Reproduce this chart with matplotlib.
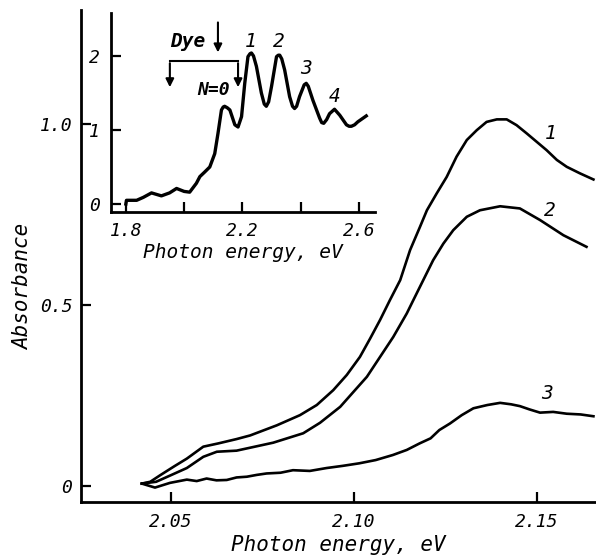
import matplotlib
matplotlib.use('Agg')
import matplotlib.pyplot as plt

# main panel: absorbance spectra of three samples
energy_1 = [2.0421, 2.0444, 2.0471, 2.0510, 2.0544, 2.0589, 2.0630, 2.0680, 2.0717, 2.0790,
            2.0853, 2.0899, 2.0944, 2.0981, 2.1017, 2.1045, 2.1072, 2.1099, 2.1127, 2.1154,
            2.1181, 2.1200, 2.1227, 2.1254, 2.1281, 2.1309, 2.1336, 2.1363, 2.1391, 2.1418,
            2.1445, 2.1473, 2.1500, 2.1527, 2.1555, 2.1582, 2.1618, 2.1655]
absorb_1 = [0.007, 0.012, 0.030, 0.055, 0.076, 0.109, 0.118, 0.130, 0.140, 0.168,
            0.196, 0.224, 0.265, 0.307, 0.357, 0.408, 0.459, 0.514, 0.569, 0.652,
            0.716, 0.762, 0.809, 0.854, 0.910, 0.956, 0.983, 1.006, 1.013, 1.013,
            0.997, 0.974, 0.951, 0.928, 0.901, 0.882, 0.864, 0.847]

energy_2 = [2.0421, 2.0460, 2.0500, 2.0544, 2.0589, 2.0626, 2.0680, 2.0780, 2.0862, 2.0908,
            2.0963, 2.0999, 2.1036, 2.1072, 2.1108, 2.1145, 2.1163, 2.1190, 2.1217, 2.1245,
            2.1272, 2.1309, 2.1345, 2.1400, 2.1454, 2.1509, 2.1573, 2.1636]
absorb_2 = [0.007, 0.012, 0.030, 0.050, 0.081, 0.095, 0.098, 0.120, 0.146, 0.175,
            0.219, 0.260, 0.302, 0.357, 0.412, 0.477, 0.514, 0.569, 0.624, 0.670,
            0.707, 0.744, 0.762, 0.773, 0.767, 0.735, 0.693, 0.661]

energy_3 = [2.0421, 2.0457, 2.0498, 2.0544, 2.0571, 2.0598, 2.0625, 2.0653, 2.0680, 2.0708,
            2.0735, 2.0762, 2.0800, 2.0834, 2.0880, 2.0926, 2.0970, 2.1015, 2.1060, 2.1107,
            2.1145, 2.1180, 2.1210, 2.1234, 2.1263, 2.1295, 2.1327, 2.1365, 2.1400, 2.1430,
            2.1454, 2.1480, 2.1509, 2.1545, 2.1582, 2.1620, 2.1655]
absorb_3 = [0.007, -0.004, 0.009, 0.018, 0.014, 0.021, 0.016, 0.017, 0.024, 0.026,
            0.031, 0.035, 0.037, 0.044, 0.042, 0.050, 0.056, 0.063, 0.072, 0.086,
            0.100, 0.118, 0.132, 0.155, 0.173, 0.196, 0.215, 0.224, 0.230, 0.226,
            0.221, 0.212, 0.203, 0.205, 0.200, 0.198, 0.193]

curve_labels = ['1', '2', '3']
curve_label_x = [2.1537, 2.1537, 2.1527]
curve_label_y = [0.975, 0.762, 0.256]

# inset: wide-range dye spectrum
inset_energy = [1.800, 1.802, 1.837, 1.860, 1.888, 1.905, 1.922, 1.950, 1.974, 2.000,
                2.019, 2.042, 2.054, 2.070, 2.088, 2.105, 2.116, 2.128, 2.134, 2.139,
                2.148, 2.157, 2.174, 2.185, 2.197, 2.208, 2.219, 2.226, 2.231, 2.238,
                2.248, 2.265, 2.275, 2.282, 2.290, 2.300, 2.317, 2.323, 2.328, 2.335,
                2.345, 2.362, 2.372, 2.379, 2.386, 2.396, 2.412, 2.419, 2.426, 2.442,
                2.465, 2.472, 2.479, 2.489, 2.499, 2.516, 2.534, 2.557, 2.566, 2.574,
                2.585, 2.596, 2.625]
inset_absorb = [0.00, 0.05, 0.05, 0.09, 0.15, 0.13, 0.11, 0.15, 0.21, 0.17,
                0.16, 0.28, 0.37, 0.43, 0.50, 0.68, 0.95, 1.27, 1.31, 1.32,
                1.30, 1.27, 1.07, 1.04, 1.18, 1.63, 1.99, 2.03, 2.04, 2.00,
                1.86, 1.50, 1.35, 1.32, 1.38, 1.59, 1.99, 2.01, 2.01, 1.96,
                1.81, 1.45, 1.32, 1.29, 1.32, 1.45, 1.61, 1.63, 1.59, 1.40,
                1.16, 1.10, 1.09, 1.14, 1.22, 1.28, 1.20, 1.07, 1.05, 1.05,
                1.07, 1.11, 1.19]

peak_labels = ['1', '2', '3', '4']
peak_label_x = [2.228, 2.325, 2.419, 2.516]
peak_label_y = [2.19, 2.19, 1.83, 1.45]

plt.rcParams['font.family'] = ['DejaVu Sans Mono']
plt.rcParams['font.style'] = 'italic'

fig = plt.figure(figsize=(5.96, 5.58), dpi=100)
ax = fig.add_axes([0.1354, 0.1009, 0.8646, 0.8811])

for xs, ys in [(energy_1, absorb_1), (energy_2, absorb_2), (energy_3, absorb_3)]:
    ax.plot(xs, ys, color='black', lw=1.9, solid_joinstyle='round')

for lab, lx, ly in zip(curve_labels, curve_label_x, curve_label_y):
    ax.text(lx, ly, lab, fontsize=14, ha='center', va='center')

ax.set_xlim(2.0254, 2.1662)
ax.set_ylim(-0.043, 1.315)
ax.set_xticks([2.05, 2.10, 2.15])
ax.set_xticklabels(['2.05', '2.10', '2.15'])
ax.set_yticks([0, 0.5, 1.0])
ax.set_yticklabels(['0', '0.5', '1.0'])
for side in ['top', 'right']:
    ax.spines[side].set_visible(False)
for side in ['left', 'bottom']:
    ax.spines[side].set_linewidth(2)
ax.tick_params(direction='in', length=7, width=1.6, labelsize=13)
ax.tick_params(axis='x', pad=8)
ax.tick_params(axis='y', pad=6)
ax.set_xlabel('Photon energy, eV', fontsize=15, labelpad=3)
fig.text(23 / 596, 1 - 287 / 558, 'Absorbance', rotation=90, fontsize=15,
         ha='center', va='center')

# inset
axi = fig.add_axes([111 / 596, 1 - 212 / 558, 264 / 596, 199 / 558])
axi.patch.set_alpha(0)
axi.plot(inset_energy, inset_absorb, color='black', lw=2.4, solid_joinstyle='round')
axi.set_xlim(1.749, 2.655)
axi.set_ylim(-0.108, 2.58)
axi.set_xticks([1.8, 2.0, 2.2, 2.4, 2.6])
axi.set_xticklabels(['1.8', '', '2.2', '', '2.6'])
axi.set_yticks([0, 1, 2])
axi.set_yticklabels(['0', '1', '2'])
for side in ['top', 'right']:
    axi.spines[side].set_visible(False)
for side in ['left', 'bottom']:
    axi.spines[side].set_linewidth(2)
axi.tick_params(direction='in', length=7, width=1.6, labelsize=13)
axi.tick_params(axis='x', pad=7)
axi.tick_params(axis='y', pad=8)
axi.set_xlabel('Photon energy, eV', fontsize=14, labelpad=2)

for lab, lx, ly in zip(peak_labels, peak_label_x, peak_label_y):
    axi.text(lx, ly, lab, fontsize=14, ha='center', va='center')

arrow = dict(arrowstyle='-|>', lw=1.5, color='black', mutation_scale=12)
axi.annotate('', xy=(2.116, 2.01), xytext=(2.116, 2.49), arrowprops=arrow)
axi.plot([1.951, 2.185], [1.93, 1.93], color='black', lw=1.5)
axi.annotate('', xy=(1.951, 1.54), xytext=(1.951, 1.94), arrowprops=arrow)
axi.annotate('', xy=(2.185, 1.54), xytext=(2.185, 1.94), arrowprops=arrow)
axi.text(2.011, 2.19, 'Dye', fontsize=14, weight='bold', ha='center', va='center')
axi.text(2.10, 1.54, 'N=0', fontsize=13, weight='bold', ha='center', va='center')

fig.savefig('out.png', dpi=100)
